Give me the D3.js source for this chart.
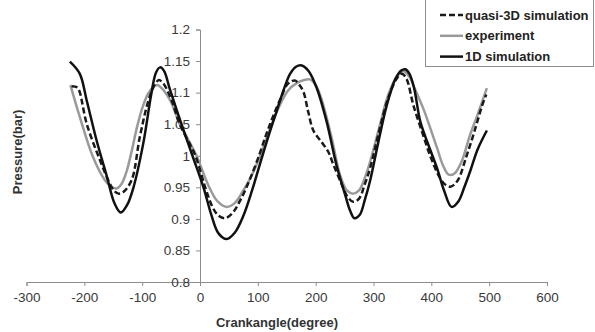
<!DOCTYPE html>
<html>
<head>
<meta charset="utf-8">
<script src="https://cdn.jsdelivr.net/npm/d3@7"></script>
<style>
  body { margin: 0; background: #fff; }
  svg { display: block; font-family: "Liberation Sans", Arial, sans-serif; }
</style>
</head>
<body>
<div id="chart"></div>
<script>
// crank angle (degree) / pressure (bar)
var angleQuasi = [-222,-212,-208,-196,-173,-158,-149,-141,-132,-118,-104,-89,-78,-71,-63,-50,-35,-8,9,22,32,43,55,70,85,100,115,127,140,150,158,165,172,179,187,196,210,222,231,245,255,265,275,285,294,310,325,340,349,357,369,385,398,413,423,433,445,461,475,488,495];
var pressureQuasi = [1.110,1.108,1.101,1.051,0.993,0.960,0.945,0.940,0.943,0.962,1.030,1.088,1.113,1.120,1.114,1.090,1.050,1.000,0.950,0.918,0.905,0.901,0.908,0.930,0.960,0.995,1.035,1.064,1.092,1.112,1.118,1.119,1.112,1.101,1.070,1.040,1.022,1.006,0.985,0.955,0.935,0.927,0.932,0.955,0.980,1.040,1.090,1.122,1.130,1.122,1.080,1.035,1.000,0.968,0.955,0.951,0.960,1.000,1.040,1.080,1.097];

var angleExp = [-224,-208,-185,-165,-155,-145,-136,-127,-118,-109,-100,-90,-82,-74,-65,-50,-35,-20,-6,16,30,46,60,75,90,104,120,138,152,167,180,190,200,210,228,242,254,265,275,285,294,310,325,340,352,362,372,386,410,420,430,440,452,467,480,496];
var pressureExp = [1.112,1.062,0.998,0.962,0.952,0.948,0.955,0.975,1.008,1.045,1.075,1.098,1.108,1.112,1.106,1.085,1.050,1.025,1.000,0.950,0.928,0.919,0.925,0.945,0.970,1.000,1.040,1.080,1.103,1.115,1.120,1.121,1.112,1.090,1.027,0.970,0.945,0.940,0.945,0.965,0.990,1.045,1.095,1.125,1.134,1.125,1.105,1.075,1.012,0.985,0.970,0.972,0.990,1.033,1.065,1.107];

var angle1D = [-225,-208,-196,-179,-161,-148,-137,-126,-115,-98,-84,-76,-69,-62,-52,-32,-13,6,20,32,46,60,75,90,104,118,133,146,156,166,176,188,202,219,236,251,260,267,276,285,294,308,323,338,348,355,362,370,381,395,410,422,435,447,457,467,480,496];
var pressure1D = [1.149,1.130,1.088,1.025,0.967,0.925,0.910,0.922,0.950,1.020,1.099,1.132,1.140,1.134,1.105,1.050,1.000,0.950,0.905,0.877,0.868,0.878,0.905,0.945,0.988,1.030,1.072,1.108,1.130,1.141,1.143,1.134,1.107,1.054,0.985,0.938,0.912,0.901,0.906,0.930,0.960,1.020,1.080,1.122,1.135,1.137,1.130,1.108,1.054,1.017,0.980,0.945,0.919,0.928,0.950,0.975,1.010,1.040];

var xTicks = [-300,-200,-100,0,100,200,300,400,500,600];
var yTicks = [0.8,0.85,0.9,0.95,1,1.05,1.1,1.15,1.2];
var seriesNames = ["quasi-3D simulation", "experiment", "1D simulation"];

var width = 595, height = 332;

var svg = d3.select("#chart").append("svg")
  .attr("width", width)
  .attr("height", height);

svg.append("rect").attr("width", width).attr("height", height).attr("fill", "#fff");

var x = d3.scaleLinear().domain([-300, 600]).range([26.5, 547]);
var y = d3.scaleLinear().domain([0.8, 1.2]).range([282, 29.5]);

// x axis along the 0.8 line (plain hyphen for negatives, like the original)
var xAxis = svg.append("g")
  .attr("transform", "translate(0," + y(0.8) + ")")
  .call(d3.axisBottom(x).tickValues(xTicks).tickSize(4).tickPadding(6).tickFormat(function(d){ return String(d); }));

// y axis at crank angle 0
var yAxis = svg.append("g")
  .attr("transform", "translate(" + x(0) + ",0)")
  .call(d3.axisLeft(y).tickValues(yTicks).tickSize(4).tickPadding(6).tickFormat(function(d){ return String(d); }));

[xAxis, yAxis].forEach(function(a){
  a.select(".domain").attr("stroke", "#8c8c8c").attr("stroke-width", 1);
  a.selectAll(".tick line").attr("stroke", "#8c8c8c");
  a.selectAll(".tick text")
    .attr("font-size", 13.5)
    .attr("font-family", "Liberation Sans, Arial, sans-serif")
    .attr("fill", "#3a3a3a");
});

// axis titles
svg.append("text")
  .attr("x", 277)
  .attr("y", 327)
  .attr("text-anchor", "middle")
  .attr("font-size", 13)
  .attr("font-weight", "bold")
  .attr("fill", "#333")
  .text("Crankangle(degree)");

svg.append("text")
  .attr("transform", "translate(22,152) rotate(-90)")
  .attr("text-anchor", "middle")
  .attr("font-size", 13)
  .attr("font-weight", "bold")
  .attr("fill", "#333")
  .text("Pressure(bar)");

// curves
var line = d3.line()
  .x(function(d){ return x(d[0]); })
  .y(function(d){ return y(d[1]); })
  .curve(d3.curveCatmullRom.alpha(0.5));

function pairs(a, p){ return a.map(function(v, i){ return [v, p[i]]; }); }

var styles = [
  { color: "#1a1a1a", dash: "6,3" },
  { color: "#9a9a9a", dash: null },
  { color: "#111", dash: null }
];
var data = [pairs(angleQuasi, pressureQuasi), pairs(angleExp, pressureExp), pairs(angle1D, pressure1D)];

// draw experiment first, then quasi-3D, then 1D on top
[1, 0, 2].forEach(function(i){
  svg.append("path")
    .datum(data[i])
    .attr("fill", "none")
    .attr("stroke", styles[i].color)
    .attr("stroke-width", 2.5)
    .attr("stroke-dasharray", styles[i].dash)
    .attr("d", line);
});

// legend
var legend = svg.append("g");
legend.append("rect")
  .attr("x", 425.5)
  .attr("y", -1)
  .attr("width", 168)
  .attr("height", 67.5)
  .attr("fill", "#fff")
  .attr("stroke", "#8c8c8c");

seriesNames.forEach(function(name, i){
  var ly = 15 + i * 20.8;
  legend.append("line")
    .attr("x1", 440).attr("x2", 463)
    .attr("y1", ly).attr("y2", ly)
    .attr("stroke", styles[i].color)
    .attr("stroke-width", 2.5)
    .attr("stroke-dasharray", styles[i].dash);
  legend.append("text")
    .attr("x", 465)
    .attr("y", ly + 4.5)
    .attr("font-size", 13)
    .attr("font-weight", "bold")
    .attr("fill", "#222")
    .text(name);
});
</script>
</body>
</html>
